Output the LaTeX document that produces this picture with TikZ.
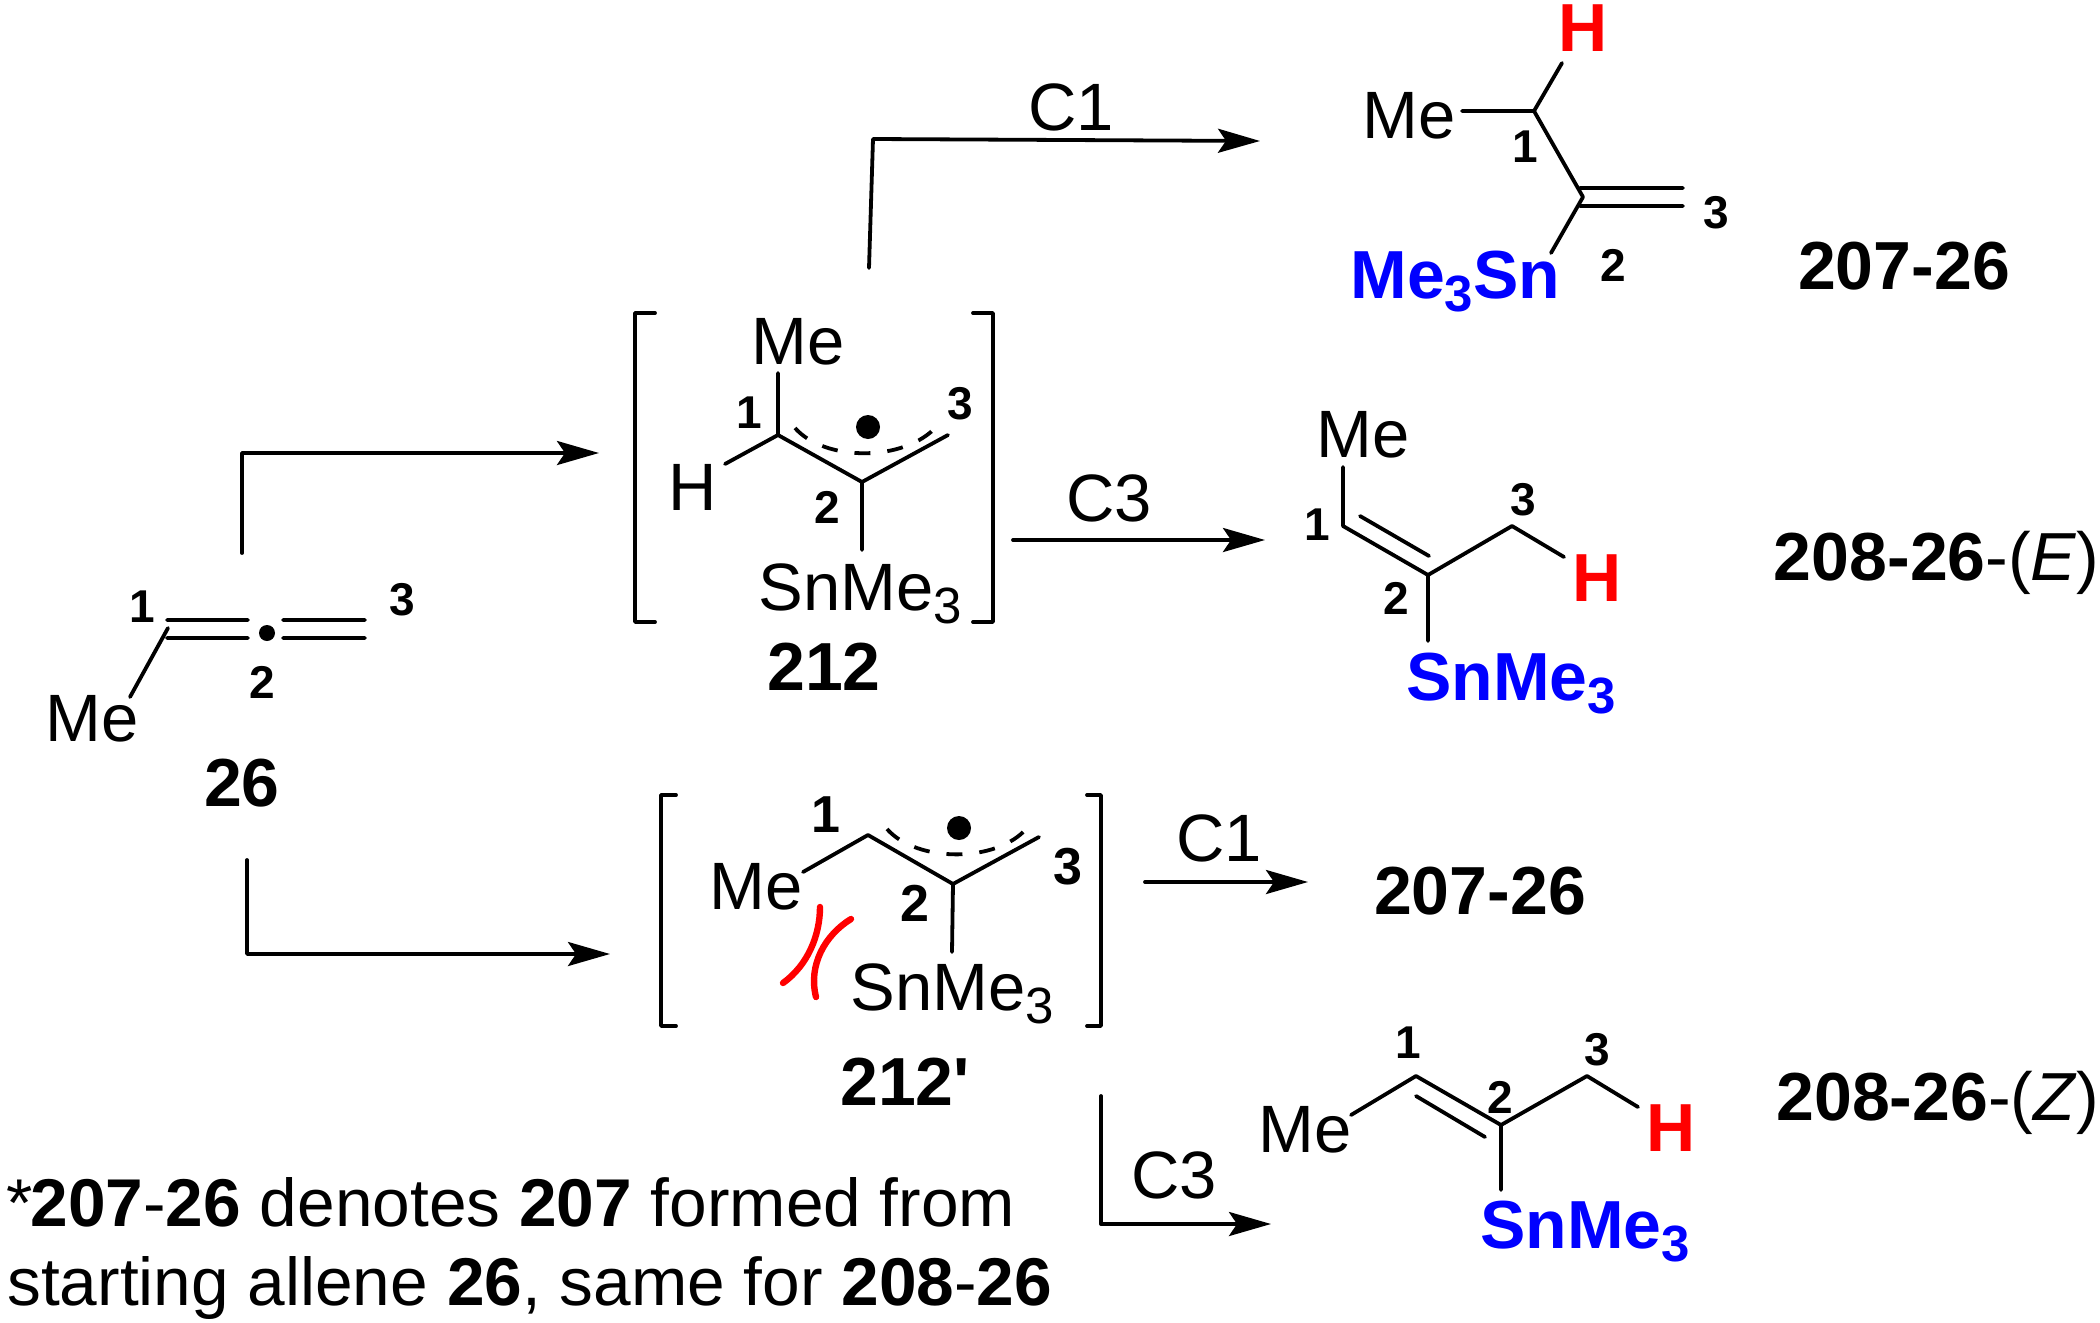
\documentclass[tikz,border=0pt]{standalone}
\usepackage{fontspec}
\setmainfont{Liberation Sans}
\usetikzlibrary{arrows.meta}

\newcommand{\lowthree}{\raisebox{-0.2em}{\fontsize{25.5}{26}\selectfont 3}}

\tikzset{
  bond/.style={line width=1.9pt,line cap=round,line join=round},
  radical/.style={line width=1.9pt,dash pattern={on 8pt off 8.5pt}},
  rxn/.style={line width=1.9pt,line cap=round,line join=round,-{Stealth[length=21pt,width=12pt,inset=4pt]}},
  clash/.style={red,line width=3.2pt,line cap=round},
  atom/.style={inner sep=0pt,font=\fontsize{33.5}{36}\selectfont},
  redatom/.style={inner sep=0pt,text=red,font=\fontsize{34}{36}\selectfont\bfseries},
  blueatom/.style={inner sep=0pt,text=blue,font=\fontsize{34}{36}\selectfont\bfseries},
  num/.style={inner sep=0pt,font=\fontsize{23}{24}\selectfont\bfseries},
  bignum/.style={inner sep=0pt,font=\fontsize{26}{28}\selectfont\bfseries},
  cmpd/.style={inner sep=0pt,font=\fontsize{34}{36}\selectfont\bfseries},
  note/.style={inner sep=0pt,font=\fontsize{33.8}{36}\selectfont}
}

\begin{document}
\begin{tikzpicture}[x=0.5pt,y=0.5pt,yscale=-1]
\useasboundingbox (0,0) rectangle (2100,1323);

% Allene 26
\coordinate (a1top) at (167,620); \coordinate (a2top) at (248,620);
\coordinate (a1low) at (167,638); \coordinate (a2low) at (248,638);
\coordinate (a3top) at (283,620); \coordinate (a4top) at (365,620);
\coordinate (a3low) at (283,638); \coordinate (a4low) at (365,638);
\coordinate (aMe) at (130,697); \coordinate (aC1) at (168,628);
\draw[bond] (a1top) -- (a2top) (a1low) -- (a2low) (a3top) -- (a4top) (a3low) -- (a4low) (aC1) -- (aMe);
\fill (267,633) circle (8);
\node[atom] (me26) at (92,719) {Me};
\node[num] (n26a) at (142,607) {1};
\node[num] (n26b) at (262,682) {2};
\node[num] (n26c) at (402,600) {3};
\node[cmpd] (c26) at (242,783) {26};

% Radical 212
\coordinate (bC1) at (778,435); \coordinate (bC2) at (862,482); \coordinate (bC3) at (948,435);
\coordinate (bMe) at (778,373); \coordinate (bH) at (725,464); \coordinate (bSn) at (862,550);
\draw[bond] (bMe) -- (bC1) -- (bC2) -- (bC3) (bC1) -- (bH) (bC2) -- (bSn);
\draw[radical] (795,428) .. controls (825,462) and (905,462) .. (937,426);
\fill (868,427) circle (12);
\draw[bond] (655,313) -- (635,313) -- (635,622) -- (655,622);
\draw[bond] (973,313) -- (993,313) -- (993,622) -- (973,622);
\node[atom] (me212) at (798,342) {Me};
\node[atom] (h212) at (693,487) {H};
\node[atom,anchor=base west] (sn212) at (758,610) {SnMe\lowthree};
\node[num] (n212a) at (749,413) {1};
\node[num] (n212b) at (827,507) {2};
\node[num] (n212c) at (960,404) {3};
\node[cmpd] (c212) at (824,667) {212};

% Radical 212'
\coordinate (cC1) at (868,835); \coordinate (cC2) at (953,884); \coordinate (cC3) at (1039,837);
\coordinate (cMe) at (803,872); \coordinate (cSn) at (952,952);
\draw[bond] (cMe) -- (cC1) -- (cC2) -- (cC3) (cC2) -- (cSn);
\draw[radical] (887,829) .. controls (917,863) and (997,863) .. (1027,828);
\fill (959,828) circle (12);
\draw[bond] (676,795) -- (661,795) -- (661,1026) -- (676,1026);
\draw[bond] (1087,795) -- (1101,795) -- (1101,1026) -- (1087,1026);
\draw[clash] (820,907) .. controls (820,935) and (808,965) .. (783,983);
\draw[clash] (851,919) .. controls (825,935) and (808,965) .. (816,997);
\node[atom] (me212p) at (756,887) {Me};
\node[atom,anchor=base west] (sn212p) at (850,1010) {SnMe\lowthree};
\node[bignum] (n212pa) at (826,815) {1};
\node[bignum] (n212pb) at (915,903) {2};
\node[bignum] (n212pc) at (1068,867) {3};
\node[cmpd] (c212p) at (905,1082) {212\textquotesingle};

% Product 207-26
\coordinate (dC1) at (1534,111); \coordinate (dC2) at (1583,197);
\coordinate (dH) at (1562,63); \coordinate (dMe) at (1462,111); \coordinate (dSn) at (1551,253);
\coordinate (d1top) at (1580,188); \coordinate (d2top) at (1683,188);
\coordinate (d1low) at (1580,206); \coordinate (d2low) at (1683,206);
\draw[bond] (dMe) -- (dC1) -- (dC2) -- (dSn) (dC1) -- (dH) (d1top) -- (d2top) (d1low) -- (d2low);
\node[redatom] (h207) at (1583,28) {H};
\node[atom] (me207) at (1409,116) {Me};
\node[blueatom,anchor=base west] (sn207) at (1350,298) {Me\lowthree Sn};
\node[num] (n207a) at (1525,147) {1};
\node[num] (n207b) at (1613,265) {2};
\node[num] (n207c) at (1716,213) {3};
\node[cmpd] (c207) at (1904,266) {207-26};

% Product 208-26-(E)
\coordinate (eC1) at (1343,526); \coordinate (eC2) at (1428,575); \coordinate (eC3) at (1512,526);
\coordinate (eMe) at (1343,467); \coordinate (eH) at (1564,557); \coordinate (eSn) at (1428,641);
\coordinate (e1in) at (1360,516); \coordinate (e2in) at (1429,556);
\draw[bond] (eMe) -- (eC1) -- (eC2) -- (eC3) -- (eH) (eC2) -- (eSn) (e1in) -- (e2in);
\node[atom] (me208e) at (1363,435) {Me};
\node[redatom] (h208e) at (1597,578) {H};
\node[blueatom,anchor=base west] (sn208e) at (1406,700) {SnMe\lowthree};
\node[num] (n208ea) at (1317,525) {1};
\node[num] (n208eb) at (1396,598) {2};
\node[num] (n208ec) at (1523,500) {3};
\node[cmpd,anchor=east] (c208e) at (2100,563) {208-26\mdseries-(\textit{E})};

% Product 208-26-(Z)
\coordinate (fC1) at (1416,1076); \coordinate (fC2) at (1501,1125); \coordinate (fC3) at (1587,1076);
\coordinate (fMe) at (1351,1115); \coordinate (fH) at (1638,1107); \coordinate (fSn) at (1501,1190);
\coordinate (f1in) at (1416,1096); \coordinate (f2in) at (1485,1137);
\draw[bond] (fMe) -- (fC1) -- (fC2) -- (fC3) -- (fH) (fC2) -- (fSn) (f1in) -- (f2in);
\node[atom] (me208z) at (1305,1130) {Me};
\node[redatom] (h208z) at (1671,1128) {H};
\node[blueatom,anchor=base west] (sn208z) at (1480,1248) {SnMe\lowthree};
\node[num] (n208za) at (1408,1043) {1};
\node[num] (n208zb) at (1500,1097) {2};
\node[num] (n208zc) at (1597,1050) {3};
\node[cmpd,anchor=east] (c208z) at (2100,1103) {208-26\mdseries-(\textit{Z})};

% Arrows
\coordinate (up26) at (242,553); \coordinate (to212) at (599,453);
\coordinate (dn26) at (247,860); \coordinate (to212p) at (610,954);
\draw[rxn] (up26) |- (to212);
\draw[rxn] (dn26) |- (to212p);
\coordinate (up212) at (869,268); \coordinate (bend212) at (873,139); \coordinate (to207) at (1260,141);
\draw[rxn] (up212) -- (bend212) -- (to207);
\node[atom] (lab1) at (1071,107) {C1};
\coordinate (out212) at (1013,540); \coordinate (to208e) at (1265,540);
\draw[rxn] (out212) -- (to208e);
\node[atom] (lab2) at (1109,498) {C3};
\coordinate (out212p) at (1145,882); \coordinate (to207b) at (1308,882);
\draw[rxn] (out212p) -- (to207b);
\node[atom] (lab3) at (1219,838) {C1};
\node[cmpd] (c207b) at (1480,891) {207-26};
\coordinate (dn212p) at (1101,1096); \coordinate (to208z) at (1271,1224);
\draw[rxn] (dn212p) |- (to208z);
\node[atom] (lab4) at (1174,1175) {C3};

% Footnote
\node[note,anchor=base west] (note1) at (6,1226) {*\kern-0.03em\textbf{207}-\textbf{26} denotes \textbf{207} formed from};
\node[note,anchor=base west] (note2) at (7,1305) {starting allene \textbf{26}, same for \textbf{208}-\textbf{26}};

\end{tikzpicture}
\end{document}
